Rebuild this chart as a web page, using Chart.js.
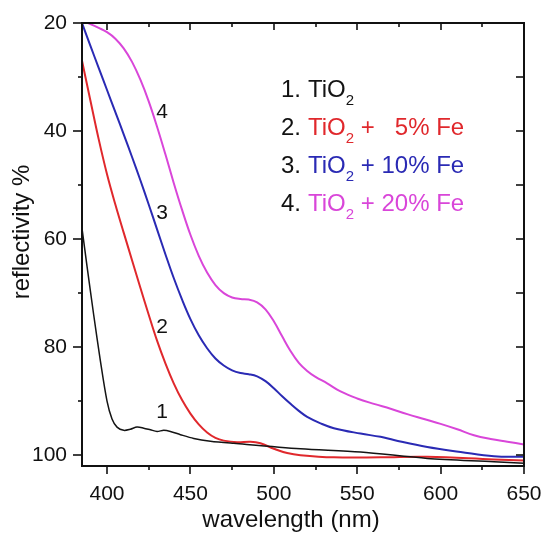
<!DOCTYPE html>
<html><head><meta charset="utf-8">
<script src="https://cdn.jsdelivr.net/npm/chart.js@4/dist/chart.umd.min.js"></script>
<style>html,body{margin:0;padding:0;background:#fff}</style>
</head><body>
<canvas id="c" width="544" height="541"></canvas>
<script>
// ---- data ----
const wl1 = [385, 388, 392, 396, 400, 403, 406, 410, 414, 418, 422, 426, 430, 434, 438, 444, 452, 462, 476, 516, 552, 592, 632, 650];
const r1  = [58, 65, 74, 82.5, 90, 93.3, 94.8, 95.4, 95.2, 94.8, 95.0, 95.3, 95.6, 95.4, 95.6, 96.2, 96.9, 97.4, 97.8, 98.8, 99.4, 100.6, 101.2, 101.5];

const wl2 = [385, 390, 395, 400, 405, 410, 415, 420, 425, 430, 435, 440, 445, 450, 455, 460, 465, 470, 478, 486, 492, 500, 508, 516, 536, 564, 592, 632, 650];
const r2  = [27, 34.3, 41.5, 48.0, 53.6, 58.8, 63.9, 69.0, 74.0, 78.8, 83.0, 86.7, 89.8, 92.3, 94.3, 95.8, 96.8, 97.3, 97.6, 97.5, 97.8, 98.8, 99.6, 100, 100.4, 100.4, 100.3, 100.8, 101];

const wl3 = [385, 390, 395, 400, 405, 410, 415, 420, 425, 430, 435, 440, 445, 450, 455, 460, 465, 470, 475, 480, 485, 490, 495, 500, 505, 510, 515, 520, 528, 536, 552, 564, 572, 592, 612, 632, 650];
const r3  = [20, 24.2, 28.3, 32.4, 36.5, 40.6, 44.8, 49.1, 53.6, 58.2, 62.8, 67.2, 71.2, 74.8, 77.8, 80.2, 82.1, 83.4, 84.3, 84.8, 85.0, 85.4, 86.3, 87.6, 89.1, 90.5, 91.8, 92.9, 94.1, 95.0, 96.0, 96.6, 97.2, 98.5, 99.4, 100.2, 100.3];

const wl4 = [385, 390, 395, 400, 405, 410, 415, 420, 425, 430, 435, 440, 445, 450, 455, 460, 465, 470, 475, 480, 485, 490, 495, 500, 505, 510, 515, 520, 525, 532, 540, 550, 560, 570, 580, 590, 600, 610, 620, 630, 640, 650];
const r4  = [19.6, 20.2, 20.9, 21.7, 22.9, 24.7, 27.2, 30.5, 34.5, 39.2, 44.3, 49.6, 54.6, 59.2, 63.1, 66.2, 68.5, 70.0, 70.8, 71.1, 71.2, 71.7, 73.0, 75.2, 78.0, 80.7, 82.9, 84.4, 85.5, 86.7, 88.2, 89.5, 90.5, 91.4, 92.4, 93.3, 94.2, 95.2, 96.3, 97.0, 97.5, 98.0];

const X_MAJOR = [400, 450, 500, 550, 600, 650];
const X_MINOR = [425, 475, 525, 575, 625];
const Y_MAJOR = [20, 40, 60, 80, 100];
const Y_MINOR = [30, 50, 70, 90];

const CURVE_LABELS = ['1', '2', '3', '4'];
const CURVE_LABEL_X = [433, 433, 433, 433];
const CURVE_LABEL_Y = [92.0, 76.3, 55.2, 36.5];

const LEGEND_NUM  = ['1.', '2.', '3.', '4.'];
const LEGEND_REST = ['', ' +   5% Fe', ' + 10% Fe', ' + 20% Fe'];

const X_TITLE = 'wavelength (nm)';
const Y_TITLE = 'reflectivity %';

// ---- styles ----
const COLORS = ['#141414', '#e0282c', '#2a2ab4', '#d946d9'];
const FONT = '"Liberation Sans", Arial, sans-serif';

function pts(xs, ys) { return xs.map((v, i) => ({x: v, y: ys[i]})); }

const datasets = [
  {data: pts(wl1, r1), borderColor: COLORS[0], borderWidth: 1.5, tension: 0.3},
  {data: pts(wl2, r2), borderColor: COLORS[1], borderWidth: 2, tension: 0.4},
  {data: pts(wl3, r3), borderColor: COLORS[2], borderWidth: 2, tension: 0.4},
  {data: pts(wl4, r4), borderColor: COLORS[3], borderWidth: 2, tension: 0.4}
].map(d => Object.assign(d, {pointRadius: 0, fill: false}));

function line(ctx, x1, y1, x2, y2) { ctx.beginPath(); ctx.moveTo(x1, y1); ctx.lineTo(x2, y2); ctx.stroke(); }

const decor = {
  id: 'decor',
  afterDraw(chart) {
    const {ctx, chartArea: {left, top, right, bottom}, scales: {x, y}} = chart;
    ctx.save();
    ctx.strokeStyle = '#111';
    ctx.lineWidth = 2;
    ctx.strokeRect(left, top, right - left, bottom - top);
    ctx.lineWidth = 1.6;
    X_MAJOR.concat(X_MINOR).forEach(v => {
      const px = Math.round(x.getPixelForValue(v));
      const maj = X_MAJOR.includes(v);
      line(ctx, px, bottom, px, bottom + (maj ? 8 : 4));
      line(ctx, px, top, px, top + (maj ? 7 : 4));
    });
    Y_MAJOR.concat(Y_MINOR).forEach(v => {
      const py = Math.round(y.getPixelForValue(v));
      const maj = Y_MAJOR.includes(v);
      line(ctx, left - (maj ? 9 : 4), py, left, py);
      line(ctx, right - 8, py, right, py);
    });
    // curve number labels
    ctx.fillStyle = '#111';
    ctx.font = '21px ' + FONT;
    ctx.textAlign = 'center';
    ctx.textBaseline = 'middle';
    CURVE_LABELS.forEach((t, i) => ctx.fillText(t, x.getPixelForValue(CURVE_LABEL_X[i]), y.getPixelForValue(CURVE_LABEL_Y[i])));
    // legend
    ctx.textAlign = 'left';
    ctx.textBaseline = 'alphabetic';
    const base = [97, 135, 173, 211];
    LEGEND_NUM.forEach((n, i) => {
      ctx.font = '24px ' + FONT;
      ctx.fillStyle = '#111';
      ctx.fillText(n, 281, base[i]);
      ctx.fillStyle = COLORS[i];
      ctx.fillText('TiO', 308, base[i]);
      let xx = 308 + ctx.measureText('TiO').width;
      ctx.font = '15px ' + FONT;
      ctx.fillText('2', xx, base[i] + 8);
      xx += ctx.measureText('2').width;
      ctx.font = '24px ' + FONT;
      if (LEGEND_REST[i]) ctx.fillText(LEGEND_REST[i], xx, base[i]);
    });
    // axis titles
    ctx.fillStyle = '#111';
    ctx.font = '24px ' + FONT;
    ctx.textAlign = 'center';
    ctx.textBaseline = 'middle';
    ctx.fillText(X_TITLE, 291, 520);
    ctx.save();
    ctx.translate(22, 232);
    ctx.rotate(-Math.PI / 2);
    ctx.fillText(Y_TITLE, 0, 0);
    ctx.restore();
    ctx.restore();
  }
};

new Chart(document.getElementById('c'), {
  type: 'line',
  data: {datasets},
  plugins: [decor],
  options: {
    responsive: false,
    animation: false,
    events: [],
    layout: {padding: {top: 23, right: 20, left: 0, bottom: 0}},
    plugins: {legend: {display: false}, tooltip: {enabled: false}},
    scales: {
      x: {
        type: 'linear', min: 385, max: 650,
        afterBuildTicks: s => { s.ticks = X_MAJOR.concat(X_MINOR).sort((a, b) => a - b).map(v => ({value: v})); },
        afterFit: s => { s.height = 75; s.paddingLeft = 0; s.paddingRight = 0; },
        grid: {display: false, drawTicks: false}, border: {display: false},
        ticks: {autoSkip: false, maxRotation: 0, padding: 16, color: '#111', font: {family: FONT, size: 21},
                callback: v => X_MAJOR.includes(v) ? String(v) : ''}
      },
      y: {
        type: 'linear', min: 20, max: 102, reverse: true,
        afterBuildTicks: s => { s.ticks = Y_MAJOR.concat(Y_MINOR).sort((a, b) => a - b).map(v => ({value: v})); },
        afterFit: s => { s.width = 82; s.paddingTop = 0; s.paddingBottom = 0; },
        grid: {display: false, drawTicks: false}, border: {display: false},
        ticks: {autoSkip: false, padding: 15, color: '#111', font: {family: FONT, size: 21},
                callback: v => Y_MAJOR.includes(v) ? String(v) : ''}
      }
    }
  }
});
</script>
</body></html>
